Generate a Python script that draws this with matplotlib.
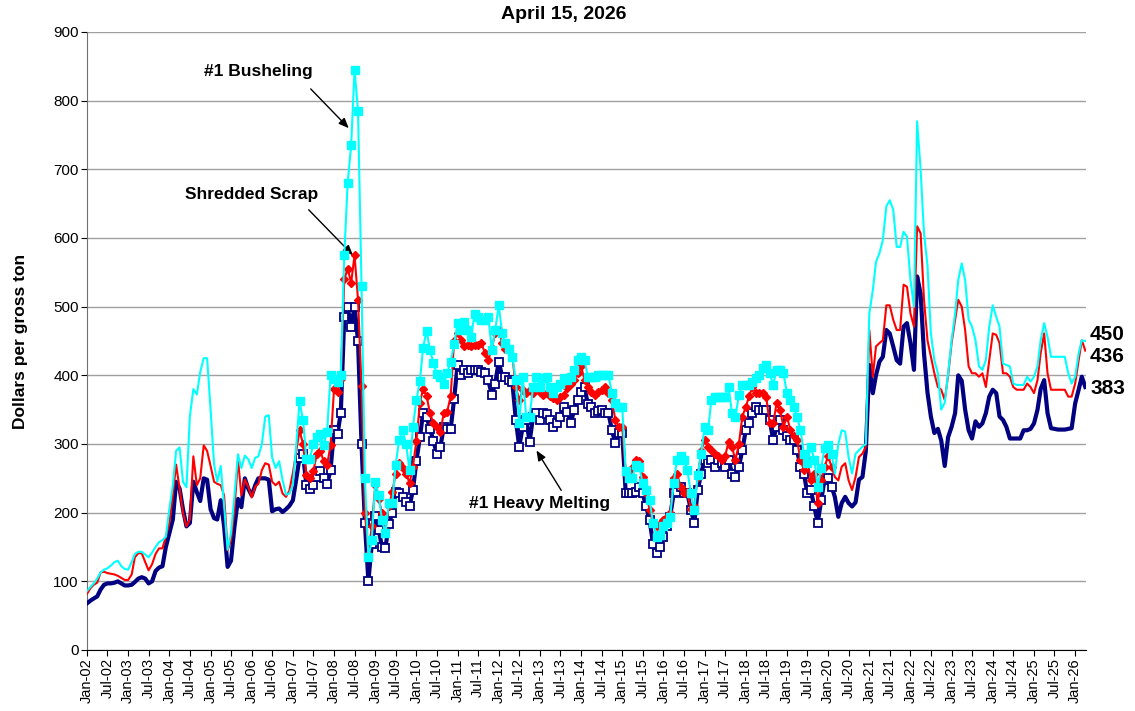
import pandas as pd
import matplotlib
matplotlib.use('Agg')
import matplotlib.pyplot as plt
import matplotlib.dates as mdates
import matplotlib.transforms as mtransforms

plt.rcParams['font.family'] = ['Liberation Sans', 'DejaVu Sans']

# monthly prices, Jan-2002 .. Apr-2026 (dollars per gross ton)
months = pd.date_range('2002-01-01', '2026-04-01', freq='MS')

hms = [
    68, 72, 75, 78, 88, 95, 97, 97, 98, 100, 97, 94,          # 2002
    94, 95, 99, 104, 106, 104, 97, 100, 115, 120, 122, 150,   # 2003
    170, 190, 245, 235, 205, 180, 185, 245, 230, 217, 250, 248,
    205, 192, 190, 218, 180, 121, 130, 180, 220, 208, 250, 235,
    225, 240, 250, 250, 250, 248, 202, 205, 206, 201, 205, 210,
    218, 250, 280, 285, 240, 235, 240, 252, 260, 250, 242, 262,
    320, 315, 345, 485, 500, 470, 500, 450, 300, 185, 100, 155,
    195, 175, 150, 148, 184, 199, 230, 228, 223, 215, 209, 233,
    275, 310, 345, 340, 322, 305, 285, 295, 325, 322, 322, 365,
    415, 400, 408, 403, 408, 408, 408, 405, 403, 393, 371, 388,
    420, 398, 398, 393, 390, 335, 296, 325, 335, 303, 340, 345,
    335, 345, 343, 335, 325, 330, 340, 354, 347, 330, 350, 364,
    376, 383, 358, 354, 345, 348, 350, 345, 345, 320, 301, 316,
    316, 228, 228, 228, 230, 238, 228, 209, 189, 155, 141, 150,
    165, 180, 194, 228, 230, 238, 228, 228, 204, 185, 233, 257,
    277, 272, 277, 267, 277, 272, 267, 277, 257, 252, 267, 291,
    320, 330, 345, 354, 350, 350, 350, 335, 306, 325, 335, 320,
    311, 306, 306, 291, 267, 257, 228, 233, 209, 185, 218, 248,
    250, 238, 223, 194, 214, 223, 214, 209, 215, 248, 252, 290,
    415, 374, 400, 420, 427, 466, 461, 442, 422, 417, 471, 476,
    447, 408, 544, 519, 432, 375, 340, 316, 322, 305, 268, 310,
    325, 345, 400, 392, 350, 320, 308, 333, 325, 330, 345, 369,
    379, 374, 340, 335, 325, 308, 308, 308, 308, 320, 320, 322,
    330, 350, 380, 393, 345, 323, 322, 321, 321, 321, 322, 323,
    359, 379, 398, 383,                                       # 2026
]

shredded = [
    82, 90, 95, 98, 113, 114, 112, 111, 110, 108, 105, 102,
    102, 110, 135, 141, 141, 128, 116, 125, 140, 148, 148, 165,
    185, 225, 270, 235, 200, 180, 190, 282, 240, 250, 298, 290,
    268, 245, 242, 240, 225, 145, 160, 205, 278, 225, 248, 238,
    222, 238, 242, 262, 272, 270, 245, 240, 245, 228, 223, 232,
    258, 290, 320, 300, 255, 250, 260, 285, 290, 275, 270, 298,
    380, 375, 395, 540, 555, 535, 575, 510, 385, 200, 140, 180,
    240, 220, 200, 175, 209, 230, 257, 272, 265, 257, 243, 267,
    305, 360, 380, 370, 345, 330, 325, 318, 345, 347, 370, 450,
    462, 451, 442, 444, 442, 444, 444, 447, 432, 422, 440, 461,
    466, 447, 439, 437, 427, 383, 364, 379, 374, 379, 374, 383,
    376, 371, 374, 370, 367, 364, 369, 371, 381, 388, 393, 403,
    413, 393, 383, 376, 371, 376, 379, 383, 374, 364, 335, 325,
    325, 257, 255, 265, 277, 275, 252, 228, 204, 185, 180, 183,
    189, 194, 199, 250, 257, 238, 228, 230, 205, 210, 252, 290,
    306, 296, 291, 286, 282, 277, 282, 303, 295, 277, 300, 340,
    354, 370, 383, 374, 374, 374, 369, 330, 330, 359, 350, 325,
    340, 320, 311, 306, 277, 262, 277, 248, 257, 214, 248, 267,
    282, 267, 252, 247, 267, 272, 247, 233, 252, 281, 286, 296,
    466, 398, 442, 447, 451, 502, 502, 481, 466, 466, 532, 529,
    490, 471, 617, 607, 510, 451, 427, 403, 383, 379, 364, 400,
    447, 481, 510, 500, 466, 413, 403, 403, 398, 403, 383, 422,
    461, 459, 447, 403, 403, 398, 383, 379, 379, 379, 388, 383,
    374, 393, 432, 461, 403, 379, 379, 379, 379, 379, 369, 369,
    388, 422, 451, 436,
]

busheling = [
    86, 92, 97, 104, 113, 117, 119, 123, 128, 130, 122, 118,
    117, 128, 140, 143, 143, 139, 135, 142, 150, 157, 160, 165,
    205, 240, 290, 295, 245, 237, 340, 380, 372, 405, 425, 425,
    350, 270, 245, 268, 210, 146, 170, 225, 285, 265, 283, 278,
    265, 280, 282, 300, 340, 342, 280, 265, 275, 248, 226, 228,
    240, 300, 362, 335, 278, 278, 300, 310, 315, 298, 318, 400,
    395, 390, 400, 575, 680, 735, 845, 785, 530, 250, 135, 160,
    245, 225, 190, 170, 214, 214, 270, 306, 320, 300, 262, 325,
    364, 392, 440, 465, 437, 418, 402, 398, 388, 403, 420, 445,
    476, 466, 478, 466, 456, 490, 485, 481, 481, 485, 437, 466,
    502, 461, 447, 439, 427, 393, 330, 398, 340, 340, 383, 398,
    383, 396, 398, 383, 374, 383, 388, 396, 393, 398, 408, 422,
    427, 422, 398, 398, 398, 400, 400, 400, 400, 374, 359, 354,
    354, 260, 250, 250, 270, 267, 243, 233, 218, 185, 165, 167,
    180, 185, 194, 243, 277, 282, 277, 262, 228, 204, 255, 286,
    325, 320, 364, 369, 369, 369, 369, 383, 345, 340, 371, 386,
    386, 386, 390, 396, 400, 410, 415, 403, 386, 408, 408, 403,
    374, 364, 354, 340, 320, 286, 272, 296, 277, 238, 265, 294,
    299, 286, 257, 300, 320, 318, 281, 257, 286, 291, 296, 300,
    490, 524, 565, 578, 597, 646, 655, 641, 587, 587, 609, 602,
    539, 500, 770, 700, 607, 560, 461, 422, 403, 350, 360, 403,
    451, 490, 539, 563, 539, 481, 471, 451, 413, 408, 422, 471,
    502, 485, 471, 417, 415, 413, 388, 386, 386, 386, 398, 391,
    398, 413, 451, 476, 456, 427, 427, 427, 427, 427, 403, 388,
    398, 432, 451, 450,
]

# stretch of the series drawn with markers (Mar-2007 .. Feb-2020)
mk = slice(62, 218)

NAVY = '#000080'
RED = '#ff0000'
CYAN = '#00ffff'

fig = plt.figure(figsize=(11.35, 7.11), dpi=100)
ax = fig.add_axes([0.0767, 0.0858, 0.8802, 0.8692])

ax.plot(months, hms, color=NAVY, lw=3.0, zorder=3)
ax.plot(months[mk], hms[mk], ls='none', marker='s', ms=5.5,
        mfc='white', mec=NAVY, mew=1.3, zorder=3)
ax.plot(months, shredded, color=RED, lw=1.5, zorder=4)
ax.plot(months[mk], shredded[mk], ls='none', marker='D', ms=4.5,
        mfc=RED, mec=RED, zorder=4)
ax.plot(months, busheling, color=CYAN, lw=1.5, zorder=5)
ax.plot(months[mk], busheling[mk], ls='none', marker='s', ms=6,
        mfc=CYAN, mec=CYAN, zorder=5)

ax.set_ylim(0, 900)
ax.set_yticks(range(0, 901, 100))
ax.set_xlim(pd.Timestamp('2002-01-01'), pd.Timestamp('2026-04-08'))
ax.xaxis.set_major_locator(mdates.MonthLocator(bymonth=[1, 7]))
ax.xaxis.set_major_formatter(mdates.DateFormatter('%b-%y'))
ax.tick_params(axis='x', labelrotation=90, labelsize=10.5, length=4, pad=2)
ax.tick_params(axis='y', labelsize=11, length=4, pad=2)

ax.grid(axis='y', color='#a0a0a0', lw=1.0, zorder=0)
ax.set_axisbelow(True)
for s in ['top', 'right']:
    ax.spines[s].set_visible(False)
ax.spines['left'].set_color('#707070')
ax.spines['bottom'].set_color('black')

ax.set_ylabel('Dollars per gross ton', fontsize=12.5, fontweight='bold', labelpad=18)
fig.text(0.497, 0.979, 'April 15, 2026', ha='center', va='center',
         fontsize=14, fontweight='bold')

arrow = dict(arrowstyle='-|>,head_length=0.6,head_width=0.25', color='black', lw=1)
ax.text(pd.Timestamp('2006-02-25'), 842, '#1 Busheling', ha='center', va='center',
        fontsize=12.5, fontweight='bold')
ax.annotate('', xy=(pd.Timestamp('2008-05-28'), 757),
            xytext=(pd.Timestamp('2007-05-22'), 820), arrowprops=arrow)
ax.text(pd.Timestamp('2006-01-04'), 663, 'Shredded Scrap', ha='center', va='center',
        fontsize=12.5, fontweight='bold')
ax.annotate('', xy=(pd.Timestamp('2008-07-04'), 572),
            xytext=(pd.Timestamp('2007-05-04'), 644), arrowprops=arrow)
ax.text(pd.Timestamp('2013-01-01'), 213, '#1 Heavy Melting', ha='center', va='center',
        fontsize=12.5, fontweight='bold')
ax.annotate('', xy=(pd.Timestamp('2012-11-18'), 294),
            xytext=(pd.Timestamp('2013-07-22'), 229), arrowprops=arrow)

# latest values at the right edge
trans = mtransforms.blended_transform_factory(ax.transAxes, ax.transData)
for val, dy in [(busheling[-1], 6), (shredded[-1], -6), (hms[-1], -1)]:
    ax.annotate(str(val), xy=(1.004, val), xycoords=trans,
                xytext=(0, dy), textcoords='offset pixels',
                ha='left', va='center', fontsize=15, fontweight='bold',
                annotation_clip=False)

fig.savefig('out.png', dpi=100)
